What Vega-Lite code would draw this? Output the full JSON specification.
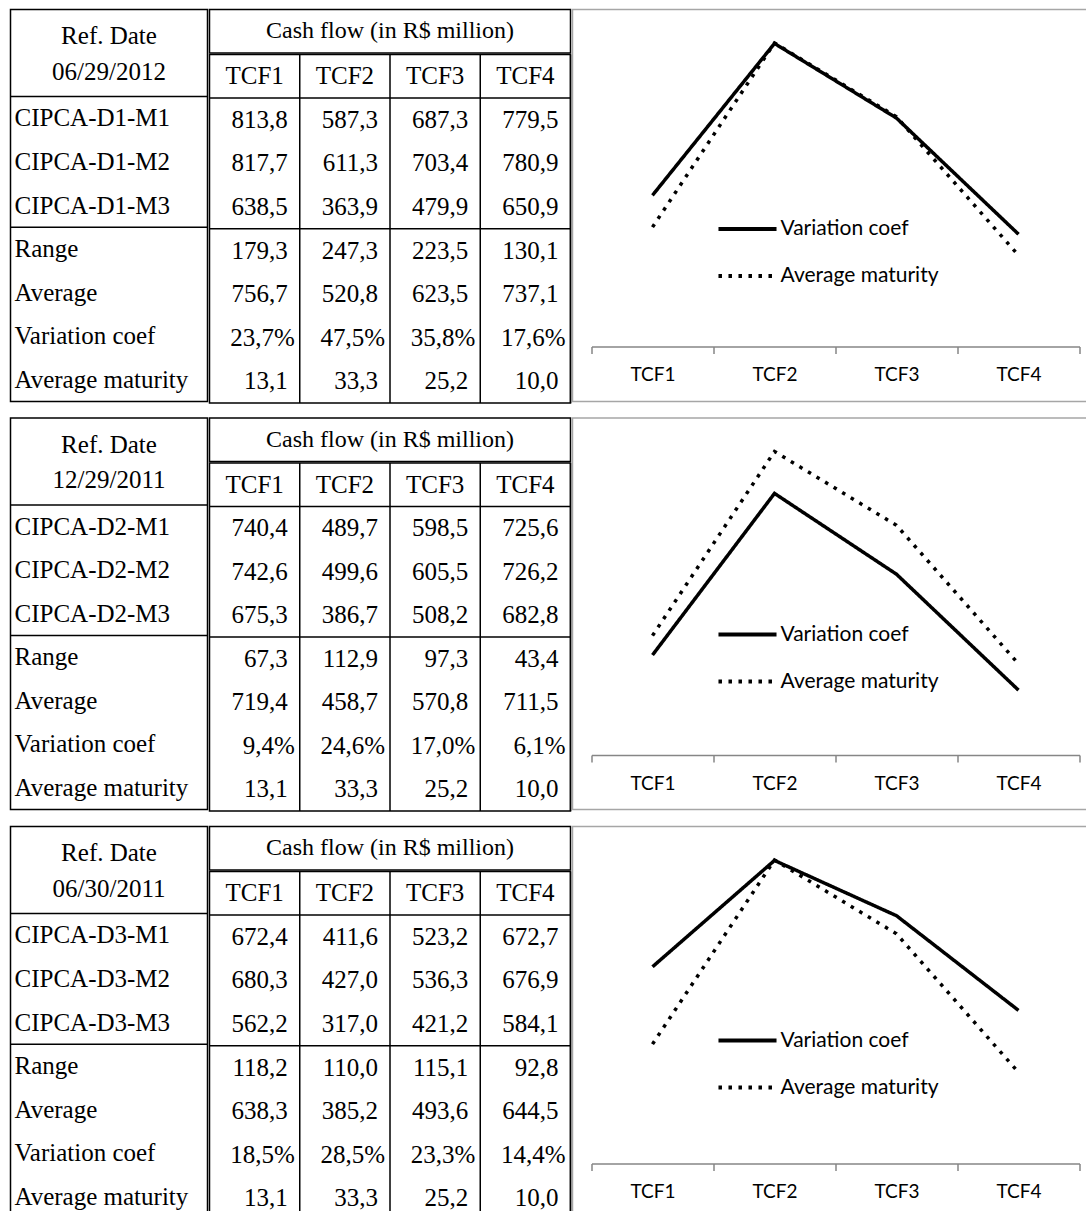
{
"$schema": "https://vega.github.io/schema/vega-lite/v6.json",
"padding": {"left": 8.5, "top": 8.5, "right": 0, "bottom": 0},
"background": "white",
"datasets": {
"table": [
{"date":"06/29/2012","row":"CIPCA-D1-M1","TCF1":813.8,"TCF2":587.3,"TCF3":687.3,"TCF4":779.5},
{"date":"06/29/2012","row":"CIPCA-D1-M2","TCF1":817.7,"TCF2":611.3,"TCF3":703.4,"TCF4":780.9},
{"date":"06/29/2012","row":"CIPCA-D1-M3","TCF1":638.5,"TCF2":363.9,"TCF3":479.9,"TCF4":650.9},
{"date":"06/29/2012","row":"Range","TCF1":179.3,"TCF2":247.3,"TCF3":223.5,"TCF4":130.1},
{"date":"06/29/2012","row":"Average","TCF1":756.7,"TCF2":520.8,"TCF3":623.5,"TCF4":737.1},
{"date":"06/29/2012","row":"Variation coef","TCF1":0.237,"TCF2":0.475,"TCF3":0.358,"TCF4":0.176},
{"date":"06/29/2012","row":"Average maturity","TCF1":13.1,"TCF2":33.3,"TCF3":25.2,"TCF4":10.0},
{"date":"12/29/2011","row":"CIPCA-D2-M1","TCF1":740.4,"TCF2":489.7,"TCF3":598.5,"TCF4":725.6},
{"date":"12/29/2011","row":"CIPCA-D2-M2","TCF1":742.6,"TCF2":499.6,"TCF3":605.5,"TCF4":726.2},
{"date":"12/29/2011","row":"CIPCA-D2-M3","TCF1":675.3,"TCF2":386.7,"TCF3":508.2,"TCF4":682.8},
{"date":"12/29/2011","row":"Range","TCF1":67.3,"TCF2":112.9,"TCF3":97.3,"TCF4":43.4},
{"date":"12/29/2011","row":"Average","TCF1":719.4,"TCF2":458.7,"TCF3":570.8,"TCF4":711.5},
{"date":"12/29/2011","row":"Variation coef","TCF1":0.094,"TCF2":0.246,"TCF3":0.170,"TCF4":0.061},
{"date":"12/29/2011","row":"Average maturity","TCF1":13.1,"TCF2":33.3,"TCF3":25.2,"TCF4":10.0},
{"date":"06/30/2011","row":"CIPCA-D3-M1","TCF1":672.4,"TCF2":411.6,"TCF3":523.2,"TCF4":672.7},
{"date":"06/30/2011","row":"CIPCA-D3-M2","TCF1":680.3,"TCF2":427.0,"TCF3":536.3,"TCF4":676.9},
{"date":"06/30/2011","row":"CIPCA-D3-M3","TCF1":562.2,"TCF2":317.0,"TCF3":421.2,"TCF4":584.1},
{"date":"06/30/2011","row":"Range","TCF1":118.2,"TCF2":110.0,"TCF3":115.1,"TCF4":92.8},
{"date":"06/30/2011","row":"Average","TCF1":638.3,"TCF2":385.2,"TCF3":493.6,"TCF4":644.5},
{"date":"06/30/2011","row":"Variation coef","TCF1":0.185,"TCF2":0.285,"TCF3":0.233,"TCF4":0.144},
{"date":"06/30/2011","row":"Average maturity","TCF1":13.1,"TCF2":33.3,"TCF3":25.2,"TCF4":10.0}
]
},
"vconcat": [
{
"hconcat": [
{"hconcat": [
{"width": 197, "height": 392, "data": {"name": "table"},
 "transform": [{"filter": {"field": "date", "equal": "06/29/2012"}}],
 "layer": [
  {"transform": [{"aggregate": [], "groupby": ["date"]}], "mark": {"type": "text", "dy": 5},
   "encoding": {"y": {"datum": "Ref. Date", "type": "nominal", "axis": null, "scale": {"type": "band", "domain": ["Ref. Date","Date","CIPCA-D1-M1","CIPCA-D1-M2","CIPCA-D1-M3","Range","Average","Variation coef","Average maturity"]}}, "text": {"value": "Ref. Date"}}},
  {"transform": [{"aggregate": [], "groupby": ["date"]}], "mark": {"type": "text", "dy": -3},
   "encoding": {"y": {"datum": "Date", "type": "nominal"}, "text": {"field": "date"}}},
  {"mark": {"type": "text", "align": "left", "dx": 4},
   "encoding": {"x": {"datum": 0, "type": "quantitative", "scale": {"domain": [0, 1]}, "axis": null}, "y": {"field": "row", "type": "nominal"}, "text": {"field": "row"}}},
  {"transform": [{"filter": {"field": "row", "oneOf": ["CIPCA-D1-M1", "Range"]}}], "mark": "rule",
   "encoding": {"y": {"field": "row", "type": "nominal", "bandPosition": 0}}}
 ]},
{"vconcat": [
 {"width": 361, "height": 43.5, "view": {"stroke": "black", "strokeWidth": 1.5}, "data": {"values": [{"title": "Cash flow (in R$ million)"}]}, "mark": {"type": "text", "fontSize": 24}, "encoding": {"text": {"field": "title"}}},
 {"width": 361, "height": 348.5, "data": {"name": "table"},
  "transform": [{"filter": {"field": "date", "equal": "06/29/2012"}}, {"fold": ["TCF1","TCF2","TCF3","TCF4"]}],
  "layer": [
   {"transform": [{"aggregate": [], "groupby": ["key"]}], "mark": "text",
    "encoding": {"x": {"field": "key", "type": "nominal", "axis": null, "scale": {"type": "band", "domain": ["TCF1","TCF2","TCF3","TCF4"]}},
                 "y": {"datum": "TCF", "type": "nominal", "axis": null, "scale": {"type": "band", "domain": ["TCF","CIPCA-D1-M1","CIPCA-D1-M2","CIPCA-D1-M3","Range","Average","Variation coef","Average maturity"]}},
                 "text": {"field": "key"}}},
   {"transform": [{"filter": "datum.row !== 'Variation coef'"}], "mark": {"type": "text", "align": "right", "dx": -12},
    "encoding": {"x": {"field": "key", "type": "nominal", "bandPosition": 1}, "y": {"field": "row", "type": "nominal"}, "text": {"field": "value", "type": "quantitative", "format": ".1f"}}},
   {"transform": [{"filter": {"field": "row", "equal": "Variation coef"}}], "mark": {"type": "text", "align": "right", "dx": -5},
    "encoding": {"x": {"field": "key", "type": "nominal", "bandPosition": 1}, "y": {"field": "row", "type": "nominal"}, "text": {"field": "value", "type": "quantitative", "format": ".1%"}}},
   {"transform": [{"aggregate": [], "groupby": ["key"]}], "mark": "rule",
    "encoding": {"x": {"field": "key", "type": "nominal", "bandPosition": 1}}},
   {"transform": [{"filter": {"field": "row", "oneOf": ["CIPCA-D1-M1", "Range"]}}, {"aggregate": [], "groupby": ["row"]}], "mark": "rule",
    "encoding": {"y": {"field": "row", "type": "nominal", "bandPosition": 0}}}
  ]}
], "spacing": -3}
], "spacing": -3},
{"width": 520, "height": 392, "view": {"stroke": "#a6a6a6", "strokeWidth": 1.5},
 "data": {"name": "table"},
 "transform": [{"filter": {"field": "date", "equal": "06/29/2012"}}, {"fold": ["TCF1","TCF2","TCF3","TCF4"]}],
 "encoding": {"x": {"field": "key", "type": "nominal", "scale": {"type": "band", "domain": ["TCF1","TCF2","TCF3","TCF4"], "range": [19, 507]}, "axis": {"offset": -55}}},
 "layer": [
  {"transform": [{"filter": {"field": "row", "equal": "Variation coef"}}], "mark": {"type": "line", "color": "black", "strokeWidth": 3.5},
   "encoding": {"y": {"field": "value", "type": "quantitative", "scale": {"domain": [0, 0.5], "range": [337, 18]}, "axis": null},
                "strokeDash": {"field": "row", "type": "nominal", "scale": {"domain": ["Variation coef","Average maturity"], "range": [[1,0],[3.5,6.5]]}, "legend": {"legendY": 196}}}},
  {"transform": [{"filter": {"field": "row", "equal": "Average maturity"}}], "mark": {"type": "line", "color": "black", "strokeWidth": 3.5},
   "encoding": {"y": {"field": "value", "type": "quantitative", "scale": {"domain": [0, 35], "range": [337, 18]}, "axis": null},
                "strokeDash": {"field": "row", "type": "nominal"}}}
 ],
 "resolve": {"scale": {"y": "independent"}}}
], "spacing": -3,
"resolve": {"scale": {"strokeDash": "independent"}, "legend": {"strokeDash": "independent"}}
},
{
"hconcat": [
{"hconcat": [
{"width": 197, "height": 391.5, "data": {"name": "table"},
 "transform": [{"filter": {"field": "date", "equal": "12/29/2011"}}],
 "layer": [
  {"transform": [{"aggregate": [], "groupby": ["date"]}], "mark": {"type": "text", "dy": 5},
   "encoding": {"y": {"datum": "Ref. Date", "type": "nominal", "axis": null, "scale": {"type": "band", "domain": ["Ref. Date","Date","CIPCA-D2-M1","CIPCA-D2-M2","CIPCA-D2-M3","Range","Average","Variation coef","Average maturity"]}}, "text": {"value": "Ref. Date"}}},
  {"transform": [{"aggregate": [], "groupby": ["date"]}], "mark": {"type": "text", "dy": -3},
   "encoding": {"y": {"datum": "Date", "type": "nominal"}, "text": {"field": "date"}}},
  {"mark": {"type": "text", "align": "left", "dx": 4},
   "encoding": {"x": {"datum": 0, "type": "quantitative", "scale": {"domain": [0, 1]}, "axis": null}, "y": {"field": "row", "type": "nominal"}, "text": {"field": "row"}}},
  {"transform": [{"filter": {"field": "row", "oneOf": ["CIPCA-D2-M1", "Range"]}}], "mark": "rule",
   "encoding": {"y": {"field": "row", "type": "nominal", "bandPosition": 0}}}
 ]},
{"vconcat": [
 {"width": 361, "height": 43.5, "view": {"stroke": "black", "strokeWidth": 1.5}, "data": {"values": [{"title": "Cash flow (in R$ million)"}]}, "mark": {"type": "text", "fontSize": 24}, "encoding": {"text": {"field": "title"}}},
 {"width": 361, "height": 348, "data": {"name": "table"},
  "transform": [{"filter": {"field": "date", "equal": "12/29/2011"}}, {"fold": ["TCF1","TCF2","TCF3","TCF4"]}],
  "layer": [
   {"transform": [{"aggregate": [], "groupby": ["key"]}], "mark": "text",
    "encoding": {"x": {"field": "key", "type": "nominal", "axis": null, "scale": {"type": "band", "domain": ["TCF1","TCF2","TCF3","TCF4"]}},
                 "y": {"datum": "TCF", "type": "nominal", "axis": null, "scale": {"type": "band", "domain": ["TCF","CIPCA-D2-M1","CIPCA-D2-M2","CIPCA-D2-M3","Range","Average","Variation coef","Average maturity"]}},
                 "text": {"field": "key"}}},
   {"transform": [{"filter": "datum.row !== 'Variation coef'"}], "mark": {"type": "text", "align": "right", "dx": -12},
    "encoding": {"x": {"field": "key", "type": "nominal", "bandPosition": 1}, "y": {"field": "row", "type": "nominal"}, "text": {"field": "value", "type": "quantitative", "format": ".1f"}}},
   {"transform": [{"filter": {"field": "row", "equal": "Variation coef"}}], "mark": {"type": "text", "align": "right", "dx": -5},
    "encoding": {"x": {"field": "key", "type": "nominal", "bandPosition": 1}, "y": {"field": "row", "type": "nominal"}, "text": {"field": "value", "type": "quantitative", "format": ".1%"}}},
   {"transform": [{"aggregate": [], "groupby": ["key"]}], "mark": "rule",
    "encoding": {"x": {"field": "key", "type": "nominal", "bandPosition": 1}}},
   {"transform": [{"filter": {"field": "row", "oneOf": ["CIPCA-D2-M1", "Range"]}}, {"aggregate": [], "groupby": ["row"]}], "mark": "rule",
    "encoding": {"y": {"field": "row", "type": "nominal", "bandPosition": 0}}}
  ]}
], "spacing": -3}
], "spacing": -3},
{"width": 520, "height": 391.5, "view": {"stroke": "#a6a6a6", "strokeWidth": 1.5},
 "data": {"name": "table"},
 "transform": [{"filter": {"field": "date", "equal": "12/29/2011"}}, {"fold": ["TCF1","TCF2","TCF3","TCF4"]}],
 "encoding": {"x": {"field": "key", "type": "nominal", "scale": {"type": "band", "domain": ["TCF1","TCF2","TCF3","TCF4"], "range": [19, 507]}, "axis": {"offset": -54.5}}},
 "layer": [
  {"transform": [{"filter": {"field": "row", "equal": "Variation coef"}}], "mark": {"type": "line", "color": "black", "strokeWidth": 3.5},
   "encoding": {"y": {"field": "value", "type": "quantitative", "scale": {"domain": [0, 0.3], "range": [337, 18]}, "axis": null},
                "strokeDash": {"field": "row", "type": "nominal", "scale": {"domain": ["Variation coef","Average maturity"], "range": [[1,0],[3.5,6.5]]}, "legend": {"legendY": 193}}}},
  {"transform": [{"filter": {"field": "row", "equal": "Average maturity"}}], "mark": {"type": "line", "color": "black", "strokeWidth": 3.5},
   "encoding": {"y": {"field": "value", "type": "quantitative", "scale": {"domain": [0, 35], "range": [337, 18]}, "axis": null},
                "strokeDash": {"field": "row", "type": "nominal"}}}
 ],
 "resolve": {"scale": {"y": "independent"}}}
], "spacing": -3,
"resolve": {"scale": {"strokeDash": "independent"}, "legend": {"strokeDash": "independent"}}
},
{
"hconcat": [
{"hconcat": [
{"width": 197, "height": 392, "data": {"name": "table"},
 "transform": [{"filter": {"field": "date", "equal": "06/30/2011"}}],
 "layer": [
  {"transform": [{"aggregate": [], "groupby": ["date"]}], "mark": {"type": "text", "dy": 5},
   "encoding": {"y": {"datum": "Ref. Date", "type": "nominal", "axis": null, "scale": {"type": "band", "domain": ["Ref. Date","Date","CIPCA-D3-M1","CIPCA-D3-M2","CIPCA-D3-M3","Range","Average","Variation coef","Average maturity"]}}, "text": {"value": "Ref. Date"}}},
  {"transform": [{"aggregate": [], "groupby": ["date"]}], "mark": {"type": "text", "dy": -3},
   "encoding": {"y": {"datum": "Date", "type": "nominal"}, "text": {"field": "date"}}},
  {"mark": {"type": "text", "align": "left", "dx": 4},
   "encoding": {"x": {"datum": 0, "type": "quantitative", "scale": {"domain": [0, 1]}, "axis": null}, "y": {"field": "row", "type": "nominal"}, "text": {"field": "row"}}},
  {"transform": [{"filter": {"field": "row", "oneOf": ["CIPCA-D3-M1", "Range"]}}], "mark": "rule",
   "encoding": {"y": {"field": "row", "type": "nominal", "bandPosition": 0}}}
 ]},
{"vconcat": [
 {"width": 361, "height": 43.5, "view": {"stroke": "black", "strokeWidth": 1.5}, "data": {"values": [{"title": "Cash flow (in R$ million)"}]}, "mark": {"type": "text", "fontSize": 24}, "encoding": {"text": {"field": "title"}}},
 {"width": 361, "height": 348.5, "data": {"name": "table"},
  "transform": [{"filter": {"field": "date", "equal": "06/30/2011"}}, {"fold": ["TCF1","TCF2","TCF3","TCF4"]}],
  "layer": [
   {"transform": [{"aggregate": [], "groupby": ["key"]}], "mark": "text",
    "encoding": {"x": {"field": "key", "type": "nominal", "axis": null, "scale": {"type": "band", "domain": ["TCF1","TCF2","TCF3","TCF4"]}},
                 "y": {"datum": "TCF", "type": "nominal", "axis": null, "scale": {"type": "band", "domain": ["TCF","CIPCA-D3-M1","CIPCA-D3-M2","CIPCA-D3-M3","Range","Average","Variation coef","Average maturity"]}},
                 "text": {"field": "key"}}},
   {"transform": [{"filter": "datum.row !== 'Variation coef'"}], "mark": {"type": "text", "align": "right", "dx": -12},
    "encoding": {"x": {"field": "key", "type": "nominal", "bandPosition": 1}, "y": {"field": "row", "type": "nominal"}, "text": {"field": "value", "type": "quantitative", "format": ".1f"}}},
   {"transform": [{"filter": {"field": "row", "equal": "Variation coef"}}], "mark": {"type": "text", "align": "right", "dx": -5},
    "encoding": {"x": {"field": "key", "type": "nominal", "bandPosition": 1}, "y": {"field": "row", "type": "nominal"}, "text": {"field": "value", "type": "quantitative", "format": ".1%"}}},
   {"transform": [{"aggregate": [], "groupby": ["key"]}], "mark": "rule",
    "encoding": {"x": {"field": "key", "type": "nominal", "bandPosition": 1}}},
   {"transform": [{"filter": {"field": "row", "oneOf": ["CIPCA-D3-M1", "Range"]}}, {"aggregate": [], "groupby": ["row"]}], "mark": "rule",
    "encoding": {"y": {"field": "row", "type": "nominal", "bandPosition": 0}}}
  ]}
], "spacing": -3}
], "spacing": -3},
{"width": 520, "height": 392, "view": {"stroke": "#a6a6a6", "strokeWidth": 1.5},
 "data": {"name": "table"},
 "transform": [{"filter": {"field": "date", "equal": "06/30/2011"}}, {"fold": ["TCF1","TCF2","TCF3","TCF4"]}],
 "encoding": {"x": {"field": "key", "type": "nominal", "scale": {"type": "band", "domain": ["TCF1","TCF2","TCF3","TCF4"], "range": [19, 507]}, "axis": {"offset": -55}}},
 "layer": [
  {"transform": [{"filter": {"field": "row", "equal": "Variation coef"}}], "mark": {"type": "line", "color": "black", "strokeWidth": 3.5},
   "encoding": {"y": {"field": "value", "type": "quantitative", "scale": {"domain": [0, 0.3], "range": [337, 18]}, "axis": null},
                "strokeDash": {"field": "row", "type": "nominal", "scale": {"domain": ["Variation coef","Average maturity"], "range": [[1,0],[3.5,6.5]]}, "legend": {"legendY": 190.5}}}},
  {"transform": [{"filter": {"field": "row", "equal": "Average maturity"}}], "mark": {"type": "line", "color": "black", "strokeWidth": 3.5},
   "encoding": {"y": {"field": "value", "type": "quantitative", "scale": {"domain": [0, 35], "range": [337, 18]}, "axis": null},
                "strokeDash": {"field": "row", "type": "nominal"}}}
 ],
 "resolve": {"scale": {"y": "independent"}}}
], "spacing": -3,
"resolve": {"scale": {"strokeDash": "independent"}, "legend": {"strokeDash": "independent"}}
}
],
"spacing": 12.5,
"resolve": {"scale": {"strokeDash": "independent"}, "legend": {"strokeDash": "independent"}},
"config": {
 "view": {"stroke": "black", "strokeWidth": 1.5},
 "scale": {"bandPaddingInner": 0, "bandPaddingOuter": 0},
 "locale": {"number": {"decimal": ",", "thousands": ".", "grouping": [3], "currency": ["R$ ", ""]}},
 "text": {"font": "Liberation Serif", "fontSize": 25, "color": "black"},
 "rule": {"color": "black", "strokeWidth": 1.5},
 "axisX": {"title": null, "labelAngle": 0, "grid": false, "domainColor": "#868686", "domainWidth": 1.5, "tickColor": "#868686", "tickWidth": 1.5, "tickSize": 7, "tickBand": "extent", "labelFont": "Lato", "labelFontSize": 19, "labelColor": "black", "labelPadding": 12},
 "legend": {"title": null, "orient": "none", "legendX": 151.5, "symbolType": "M-1.35,0H1.35", "symbolSize": 1849, "symbolStrokeWidth": 4, "symbolStrokeColor": "black", "labelFont": "Lato", "labelFontSize": 21, "labelColor": "black", "labelOffset": 9.5, "rowPadding": 13, "padding": 0}
}
}
